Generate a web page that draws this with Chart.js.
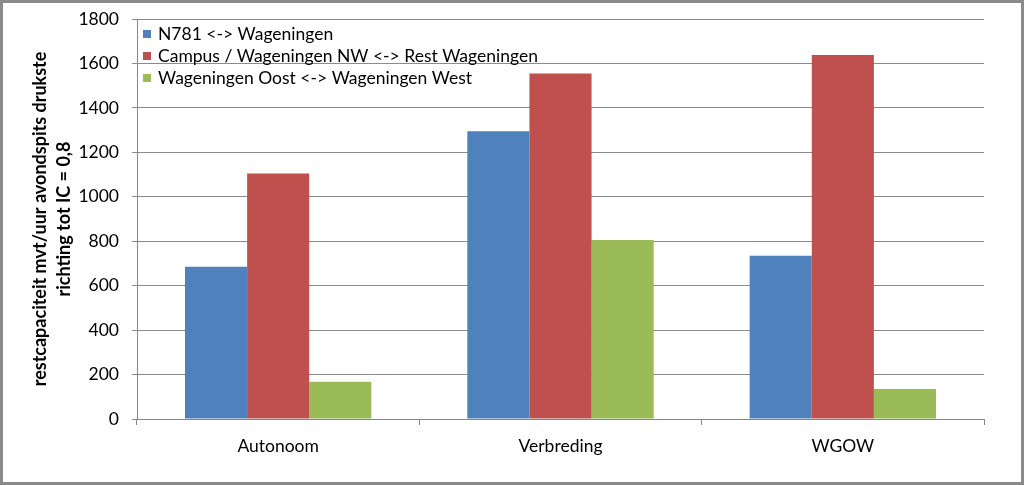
<!DOCTYPE html>
<html>
<head>
<meta charset="utf-8">
<script src="https://cdn.jsdelivr.net/npm/chart.js@4/dist/chart.umd.min.js"></script>
<style>
  html, body { margin: 0; padding: 0; background: #fff; }
  #wrap { width: 1024px; height: 485px; box-sizing: border-box; border: 3px solid #8a8a8a; position: relative; }
  #chart { display: block; }
</style>
</head>
<body>
<div id="wrap"><canvas id="chart" width="1018" height="479"></canvas></div>
<script>
// ---- data ----
const categories = ['Autonoom', 'Verbreding', 'WGOW'];
const seriesLabels = ['N781 <-> Wageningen', 'Campus / Wageningen NW <-> Rest Wageningen', 'Wageningen Oost <-> Wageningen West'];
const n781 = [685, 1295, 735];
const campus = [1105, 1555, 1638];
const oostWest = [168, 805, 135];
const seriesColors = ['#4F81BD', '#C0504D', '#9BBB59'];
const yTitle = ['restcapaciteit mvt/uur avondspits drukste', 'richting tot IC = 0,8'];

const FONT = "Lato, 'Liberation Sans', sans-serif";
Chart.defaults.font.family = FONT;
Chart.defaults.color = '#000';

// legend drawn inside the plot, top-left (Excel style)
const innerLegend = {
  id: 'innerLegend',
  afterDraw(chart) {
    const { ctx, chartArea } = chart;
    ctx.save();
    ctx.font = '17.5px ' + FONT;
    ctx.textBaseline = 'middle';
    chart.data.datasets.forEach((ds, i) => {
      const y = chartArea.top + 15 + i * 22;
      const x = chartArea.left + 6;
      ctx.fillStyle = ds.backgroundColor;
      ctx.fillRect(x, y - 4, 8, 8);
      ctx.fillStyle = '#000';
      ctx.fillText(ds.label, x + 15, y);
    });
    ctx.restore();
  }
};

const dataSets = [n781, campus, oostWest].map((vals, i) => ({
  label: seriesLabels[i],
  data: vals,
  backgroundColor: seriesColors[i],
  borderWidth: 0,
  categoryPercentage: 0.66,
  barPercentage: 1.0
}));

new Chart(document.getElementById('chart'), {
  type: 'bar',
  data: { labels: categories, datasets: dataSets },
  options: {
    responsive: false,
    animation: false,
    layout: { padding: { top: 16, right: 37, left: 0, bottom: 0 } },
    plugins: {
      legend: { display: false },
      tooltip: { enabled: false }
    },
    scales: {
      x: {
        afterFit: s => { s.height = 63; },
        border: { color: '#868686', width: 1 },
        grid: { offset: true, drawOnChartArea: false, drawTicks: true, tickLength: 6, color: '#868686' },
        ticks: { color: '#000', font: { size: 17.5 }, padding: 11 }
      },
      y: {
        min: 0, max: 1800,
        afterFit: s => { s.width = 134; s.paddingTop = 0; s.paddingBottom = 0; },
        border: { color: '#868686', width: 1 },
        grid: { color: '#8c8c8c', tickLength: 5, drawTicks: true },
        ticks: { stepSize: 200, color: '#000', font: { size: 17.5 }, padding: 13, callback: v => String(v) },
        title: {
          display: true,
          text: yTitle,
          color: '#000',
          font: { size: 18, weight: 'bold', lineHeight: 1.33 },
          padding: { top: 25, bottom: 0 }
        }
      }
    }
  },
  plugins: [innerLegend]
});
</script>
</body>
</html>
